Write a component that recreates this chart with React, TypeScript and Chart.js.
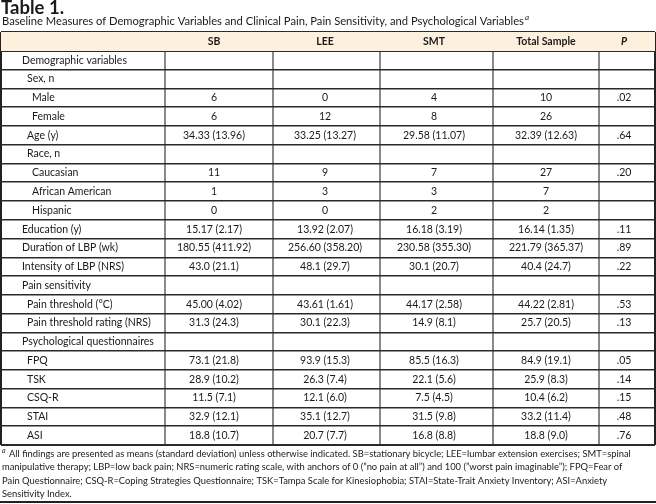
import React, { useEffect, useRef } from "react";
import { Chart, registerables } from "chart.js";

Chart.register(...registerables);

// ---------- data ----------
const titleText = "Table 1.";
const subtitleText =
  "Baseline Measures of Demographic Variables and Clinical Pain, Pain Sensitivity, and Psychological Variables";

const columns = ["", "SB", "LEE", "SMT", "Total Sample", "P"];

const rowLabels = [
  "Demographic variables",
  "Sex, n",
  "Male",
  "Female",
  "Age (y)",
  "Race, n",
  "Caucasian",
  "African American",
  "Hispanic",
  "Education (y)",
  "Duration of LBP (wk)",
  "Intensity of LBP (NRS)",
  "Pain sensitivity",
  "Pain threshold (°C)",
  "Pain threshold rating (NRS)",
  "Psychological questionnaires",
  "FPQ",
  "TSK",
  "CSQ-R",
  "STAI",
  "ASI",
];

const indentLevels = [0, 1, 2, 2, 1, 1, 2, 2, 2, 0, 0, 0, 0, 1, 1, 0, 1, 1, 1, 1, 1];

const sbValues = ["", "", "6", "6", "34.33 (13.96)", "", "11", "1", "0", "15.17 (2.17)", "180.55 (411.92)", "43.0 (21.1)", "", "45.00 (4.02)", "31.3 (24.3)", "", "73.1 (21.8)", "28.9 (10.2)", "11.5 (7.1)", "32.9 (12.1)", "18.8 (10.7)"];
const leeValues = ["", "", "0", "12", "33.25 (13.27)", "", "9", "3", "0", "13.92 (2.07)", "256.60 (358.20)", "48.1 (29.7)", "", "43.61 (1.61)", "30.1 (22.3)", "", "93.9 (15.3)", "26.3 (7.4)", "12.1 (6.0)", "35.1 (12.7)", "20.7 (7.7)"];
const smtValues = ["", "", "4", "8", "29.58 (11.07)", "", "7", "3", "2", "16.18 (3.19)", "230.58 (355.30)", "30.1 (20.7)", "", "44.17 (2.58)", "14.9 (8.1)", "", "85.5 (16.3)", "22.1 (5.6)", "7.5 (4.5)", "31.5 (9.8)", "16.8 (8.8)"];
const totalValues = ["", "", "10", "26", "32.39 (12.63)", "", "27", "7", "2", "16.14 (1.35)", "221.79 (365.37)", "40.4 (24.7)", "", "44.22 (2.81)", "25.7 (20.5)", "", "84.9 (19.1)", "25.9 (8.3)", "10.4 (6.2)", "33.2 (11.4)", "18.8 (9.0)"];
const pValues = ["", "", ".02", "", ".64", "", ".20", "", "", ".11", ".89", ".22", "", ".53", ".13", "", ".05", ".14", ".15", ".48", ".76"];

const footnoteLines = [
  "All findings are presented as means (standard deviation) unless otherwise indicated. SB=stationary bicycle; LEE=lumbar extension exercises; SMT=spinal",
  "manipulative therapy; LBP=low back pain; NRS=numeric rating scale, with anchors of 0 (\u201Dno pain at all\u201D) and 100 (\u201Dworst pain imaginable\u201D); FPQ=Fear of",
  "Pain Questionnaire; CSQ-R=Coping Strategies Questionnaire; TSK=Tampa Scale for Kinesiophobia; STAI=State-Trait Anxiety Inventory; ASI=Anxiety",
  "Sensitivity Index.",
];

// ---------- layout (not data) ----------
const colBounds = [1, 165, 273, 380, 493, 599, 655];
const colCenters = [0, 214, 325, 434, 546, 624];
const indentX = [22, 27, 32];
const FONT = "Lato, 'Open Sans', sans-serif";
const INK = "#1a1a1a";

export default function App() {
  const ref = useRef<HTMLCanvasElement>(null);

  useEffect(() => {
    document.body.style.margin = "0";
    const canvas = ref.current;
    if (!canvas) return;
    const yLabels = ["header", ...rowLabels];
    const columnData = [sbValues, leeValues, smtValues, totalValues, pValues];

    const tablePlugin = {
      id: "tableText",
      afterDraw(chart: any) {
        const { ctx, scales } = chart;
        const x = scales.x;
        const y = scales.y;
        ctx.save();
        ctx.fillStyle = INK;
        ctx.textBaseline = "middle";
        ctx.textAlign = "left";

        // title & subtitle
        ctx.font = `bold 18.5px ${FONT}`;
        ctx.fillText(titleText, 1, 8);
        ctx.font = `11.2px ${FONT}`;
        ctx.fillText(subtitleText, 2, 21);
        const sw = ctx.measureText(subtitleText).width;
        ctx.font = `italic 8px ${FONT}`;
        ctx.fillText("a", 2 + sw + 1, 17);

        // header row
        const hy = y.getPixelForValue(0);
        columns.forEach((c, j) => {
          if (!c) return;
          ctx.font = j === 5 ? `italic bold 10.5px ${FONT}` : `bold 10.5px ${FONT}`;
          ctx.textAlign = "center";
          ctx.fillText(c, x.getPixelForValue(colCenters[j]), hy);
        });

        // body rows
        ctx.font = `10.5px ${FONT}`;
        rowLabels.forEach((lab, i) => {
          const py = y.getPixelForValue(i + 1);
          ctx.textAlign = "left";
          ctx.fillText(lab, x.getPixelForValue(indentX[indentLevels[i]]), py);
          ctx.textAlign = "center";
          columnData.forEach((arr, j) => {
            if (arr[i]) ctx.fillText(arr[i], x.getPixelForValue(colCenters[j + 1]), py);
          });
        });

        // footnote
        ctx.textAlign = "left";
        const fy0 = chart.chartArea.bottom + 9;
        ctx.font = `italic 7px ${FONT}`;
        ctx.fillText("a", 2, fy0 - 3);
        ctx.font = `9.4px ${FONT}`;
        footnoteLines.forEach((line, k) => {
          ctx.fillText(line, k === 0 ? 9 : 2, fy0 + k * 13.3);
        });

        // bottom rule
        ctx.fillStyle = "#222";
        ctx.fillRect(0, 501, 656, 2);
        ctx.restore();
      },
    };

    const chart = new Chart(canvas, {
      type: "bar",
      data: {
        labels: yLabels,
        datasets: [
          {
            data: yLabels.map((_, i) => (i === 0 ? [colBounds[0], colBounds[colBounds.length - 1]] : null)) as any,
            backgroundColor: "#fdf0dc",
            borderWidth: 0,
            barPercentage: 1,
            categoryPercentage: 1,
          },
        ],
      },
      options: {
        indexAxis: "y",
        responsive: false,
        animation: false,
        events: [],
        layout: { padding: { left: 1, right: 1, top: 32, bottom: 59 } },
        plugins: {
          legend: { display: false },
          tooltip: { enabled: false },
          title: { display: false },
        },
        scales: {
          x: {
            type: "linear",
            position: "top",
            min: colBounds[0],
            max: colBounds[colBounds.length - 1],
            z: 1,
            afterBuildTicks: (s: any) => {
              s.ticks = colBounds.map((v) => ({ value: v }));
            },
            ticks: { display: false },
            border: { display: false },
            grid: {
              drawTicks: false,
              lineWidth: 2,
              color: (c: any) =>
                c.index === 0 || c.index === colBounds.length - 1 ? "#222" : "#8a8a8a",
            },
          },
          y: {
            type: "category",
            position: "left",
            offset: true,
            z: 1,
            ticks: { display: false, autoSkip: false },
            border: { display: false },
            grid: {
              offset: true,
              drawTicks: false,
              color: "#2a2a2a",
              lineWidth: (c: any) =>
                c.index === undefined || c.index === 0 || c.index === 1 ? 2 : 1.5,
            },
          },
        },
      },
      plugins: [tablePlugin],
    });
    return () => chart.destroy();
  }, []);

  return <canvas ref={ref} width={656} height={504} style={{ display: "block" }} />;
}
